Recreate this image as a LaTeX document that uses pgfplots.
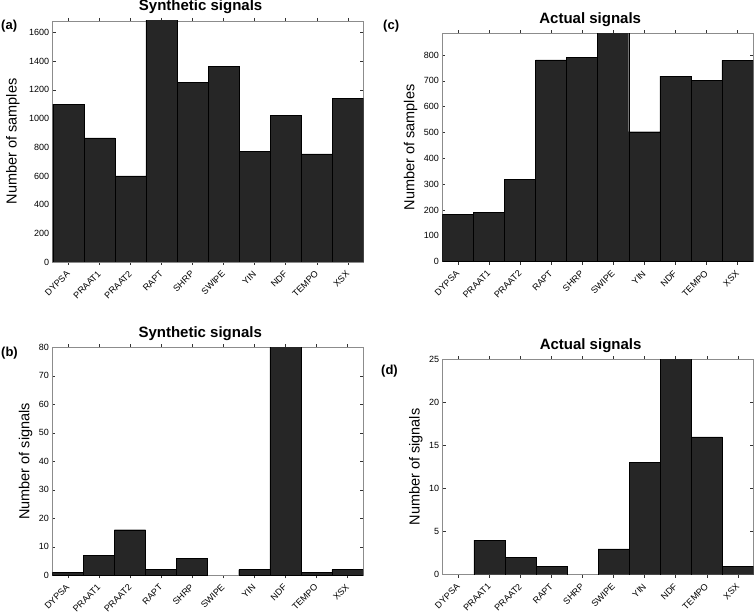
\documentclass[border=0pt]{standalone}
\usepackage{fontspec}
\setmainfont{Liberation Sans}
\usepackage{pgfplots}
\pgfplotsset{compat=1.18}

\definecolor{barfill}{HTML}{262626}
\definecolor{boxgray}{HTML}{8C8C8C}

\pgfplotsset{
  panel/.style={
    scale only axis, width=310.7pt, anchor=south west,
    xmin=0.5, xmax=10.5, ymin=0, enlargelimits=false,
    xtick={1,...,10},
    xticklabels={DYPSA,PRAAT1,PRAAT2,RAPT,SHRP,SWIPE,YIN,NDF,TEMPO,XSX},
    tick align=inside, major tick length=3pt,
    tick style={draw=black!80, line width=0.5pt},
    axis line style={draw=boxgray, line width=0.6pt},
    ybar, bar width=1,
    tick label style={font=\fontsize{9}{10}\selectfont},
    /pgf/number format/assume math mode=true,
    /pgf/number format/1000 sep={},
    scaled y ticks=false,
    xticklabel shift=7.4pt,
    xticklabel style={rotate=45, anchor=east, inner sep=0pt},
    every axis title shift=0pt,
    title style={font=\bfseries\fontsize{15}{16}\selectfont, at={(axis description cs:0.476,1)}, anchor=base, yshift=10pt},
    ylabel style={font=\fontsize{14.5}{16}\selectfont, anchor=base},
  },
  bars/.style={fill=barfill, draw=black, line width=0.4pt},
}

\begin{document}
\begin{tikzpicture}
\path[use as bounding box] (0pt,0pt) rectangle (754pt,613pt);

% (a) synthetic, samples
\begin{axis}[panel, at={(52.7pt,351pt)}, height=241pt,
    ymax=1680, ytick={0,200,...,1600},
    title={Synthetic signals}, ylabel={Number of samples},
    ylabel style={at={(axis description cs:-0.1159,0.5)}}]
\addplot[bars] coordinates {
  (1,1100) (2,865) (3,600) (4,1700) (5,1253)
  (6,1365) (7,770) (8,1020) (9,753) (10,1142)};
\end{axis}

% (c) actual, samples
\begin{axis}[panel, at={(442.3pt,351.3pt)}, height=228.4pt,
    ymax=884, ytick={0,100,...,800},
    title={Actual signals}, ylabel={Number of samples},
    ylabel style={at={(axis description cs:-0.0901,0.5)}}]
\addplot[bars] coordinates {
  (1,183) (2,191) (3,319) (4,781) (5,790)
  (6,890) (7,503) (8,718) (9,702) (10,779)};
\end{axis}

% (b) synthetic, signals
\begin{axis}[panel, at={(52.3pt,37.7pt)}, height=228pt,
    ymax=80, ytick={0,10,...,80},
    title={Synthetic signals}, ylabel={Number of signals},
    ylabel style={at={(axis description cs:-0.074,0.5)}}]
\addplot[bars] coordinates {
  (1,1) (2,7) (3,16) (4,2) (5,6)
  (7,2) (8,82) (9,1) (10,2)};
\end{axis}

% (d) actual, signals
\begin{axis}[panel, at={(442.7pt,38.3pt)}, height=215.4pt,
    ymax=25, ytick={0,5,...,25},
    title={Actual signals}, ylabel={Number of signals},
    ylabel style={at={(axis description cs:-0.074,0.5)}}]
\addplot[bars] coordinates {
  (2,4) (3,2) (4,1)
  (6,3) (7,13) (8,26) (9,16) (10,1)};
\end{axis}

\begin{scope}[every node/.style={anchor=base west, inner sep=0pt, font=\bfseries\fontsize{13}{14}\selectfont}]
\node at (1pt,583pt) {(a)};
\node at (383pt,583.5pt) {(c)};
\node at (1pt,256.5pt) {(b)};
\node at (381pt,238.5pt) {(d)};
\end{scope}
\end{tikzpicture}
\end{document}
